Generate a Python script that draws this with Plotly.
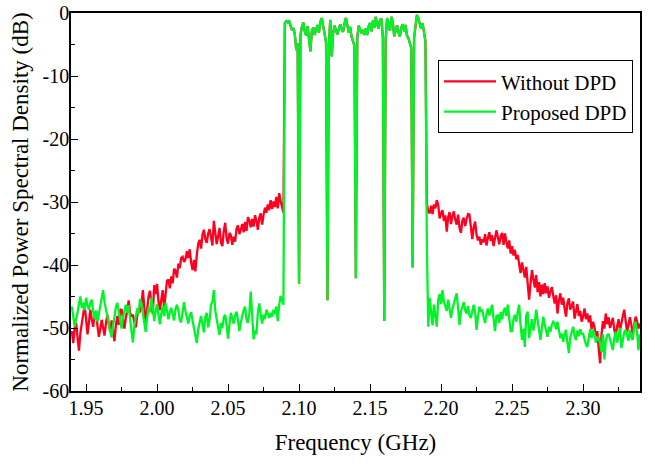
import numpy as np
import plotly.graph_objects as go

# Frequency sampling grid (GHz): 1.940 ... 2.340, 1 MHz step
F_START = 1.940
F_STEP = 0.001

# Lower adjacent band, 1.940 - 2.089 GHz (dB)
red_lower = [
    -50.5, -52.4, -50.0, -49.2, -51.5, -53.6, -50.8, -49.0, -47.6, -46.3,
    -48.5, -51.0, -49.2, -47.1, -48.6, -49.8, -48.0, -47.4, -49.6, -51.4,
    -50.2, -48.7, -49.9, -51.2, -49.3, -47.9, -49.4, -50.6, -48.8, -50.5,
    -52.1, -49.6, -48.1, -49.5, -47.2, -47.0, -48.6, -50.1, -48.4, -47.3,
    -45.6, -47.5, -48.2, -47.9, -49.0, -49.9, -48.1, -46.9, -47.5, -46.2,
    -44.0, -46.8, -49.3, -47.2, -45.0, -44.1, -46.5, -47.8, -43.2, -44.6,
    -43.0, -45.8, -47.1, -45.3, -44.0, -46.9, -44.8, -42.5, -42.3, -43.7,
    -41.8, -42.9, -40.6, -40.9, -42.0, -39.8, -40.5, -38.9, -38.7, -39.5,
    -39.1, -37.8, -38.9, -37.5, -39.6, -40.8, -39.2, -41.0, -38.4, -36.6,
    -36.0, -37.4, -35.2, -34.4, -35.9, -36.5, -35.0, -34.3, -35.6, -36.9,
    -33.0, -34.8, -36.7, -35.4, -34.1, -36.5, -37.0, -34.6, -33.3, -35.8,
    -36.6, -34.9, -35.3, -36.8, -35.5, -36.3, -34.2, -33.7, -35.1, -34.4,
    -33.5, -34.8, -33.2, -34.6, -32.4, -32.9, -34.0, -32.7, -33.9, -32.1,
    -33.0, -34.4, -32.5, -31.8, -33.6, -32.0, -30.9, -31.7, -30.4, -31.3,
    -29.7, -31.1, -29.9, -30.8, -29.2, -31.0, -28.6, -29.8, -30.6, -31.7,
]
green_lower = [
    -46.6, -48.2, -49.8, -48.5, -47.6, -46.2, -45.0, -46.8, -46.0, -47.2,
    -45.2, -46.4, -47.1, -46.0, -45.5, -47.3, -48.6, -47.2, -49.0, -47.8,
    -46.5, -45.2, -44.0, -45.9, -47.1, -48.3, -49.6, -50.4, -51.5, -49.7,
    -48.1, -46.7, -46.0, -47.5, -48.8, -50.1, -48.4, -47.0, -46.3, -47.6,
    -46.4, -48.5, -50.2, -52.3, -49.7, -48.0, -46.9, -47.8, -45.4, -46.1,
    -47.6, -49.2, -50.6, -48.4, -46.8, -47.5, -45.2, -46.7, -48.9, -47.3,
    -46.2, -47.9, -49.4, -47.7, -46.5, -48.1, -46.0, -47.3, -48.6, -47.5,
    -46.8, -47.9, -48.8, -47.0, -46.3, -47.2, -48.7, -49.1, -47.4, -45.9,
    -47.3, -48.1, -49.3, -48.0, -47.5, -48.8, -50.1, -51.0, -52.4, -50.2,
    -49.0, -48.1, -49.5, -50.7, -48.2, -47.6, -49.9, -48.7, -46.3, -45.8,
    -44.0, -47.2, -48.6, -50.3, -51.1, -49.2, -50.0, -48.3, -47.9, -49.6,
    -51.7, -49.4, -47.6, -48.5, -49.3, -48.0, -47.4, -48.8, -50.5, -49.1,
    -48.0, -47.2, -46.6, -48.7, -49.2, -47.6, -44.2, -48.0, -51.8, -50.4,
    -51.0, -47.5, -46.1, -47.8, -49.3, -47.9, -48.6, -47.1, -47.9, -48.4,
    -47.6, -48.2, -47.1, -47.8, -46.6, -48.9, -46.4, -44.9, -45.6, -46.3,
]

# Main channel, 2.090 - 2.189 GHz (dB), common to both curves
inband = [
    -1.6, -1.3, -1.5, -1.2, -2.0, -2.7, -2.4, -3.3, -5.9, -4.8,
    -43.0, -3.5, -2.2, -1.5, -2.9, -3.6, -2.1, -4.2, -6.1, -2.9,
    -2.3, -3.5, -2.6, -1.9, -3.1, -1.4, -0.8, -2.2, -3.0, -4.6,
    -45.6, -5.0, -1.1, -6.9, -3.2, -2.0, -2.8, -3.4, -2.5, -1.8,
    -2.6, -3.0, -1.7, -0.8, -1.9, -3.1, -2.2, -3.8, -4.5, -5.2,
    -42.1, -3.9, -2.0, -2.6, -3.2, -2.7, -3.5, -2.4, -3.5, -2.1,
    -1.6, -2.9, -1.2, -2.3, -0.6, -1.8, -2.5, -1.1, -0.9, -3.8,
    -48.9, -4.1, -0.8, -1.9, -2.8, -0.6, -1.4, -3.7, -2.6, -2.0,
    -3.1, -3.7, -2.3, -1.8, -2.9, -1.9, -3.6, -4.0, -4.8, -5.5,
    -40.4, -4.0, -2.1, -0.3, -0.9, -1.8, -2.5, -1.6, -3.1, -4.5,
]

# Upper adjacent band, 2.190 - 2.340 GHz (dB)
red_upper = [
    -30.2, -31.5, -31.8, -30.6, -31.9, -30.4, -31.0, -29.7, -30.5, -32.6,
    -31.8, -31.3, -33.0, -32.1, -34.7, -32.4, -31.6, -33.5, -32.2, -31.5,
    -32.8, -33.6, -32.0, -34.1, -34.9, -33.0, -32.5, -33.8, -32.7, -31.9,
    -32.0, -34.2, -35.9, -34.0, -33.1, -35.2, -36.1, -35.5, -36.8, -35.9,
    -36.4, -35.1, -36.9, -35.7, -34.8, -36.2, -35.3, -37.0, -35.9, -34.5,
    -35.6, -36.7, -35.4, -34.9, -36.8, -35.0, -36.3, -37.4, -36.1, -38.2,
    -37.0, -38.5, -37.6, -39.1, -38.4, -40.2, -41.3, -39.6, -40.9, -42.0,
    -40.3, -43.4, -45.5, -43.0, -40.8, -42.2, -43.6, -41.6, -44.3, -42.7,
    -45.0, -43.1, -44.6, -42.9, -44.5, -43.4, -45.2, -44.2, -43.5, -44.9,
    -46.1, -44.8, -47.7, -45.6, -44.5, -46.3, -45.2, -46.9, -48.2, -46.0,
    -45.3, -47.1, -46.4, -45.8, -48.5, -47.0, -46.2, -48.1, -47.3, -49.0,
    -48.2, -46.9, -48.6, -47.7, -49.1, -48.0, -50.2, -49.0, -49.8, -51.3,
    -50.5, -53.2, -55.6, -51.0, -48.9, -50.1, -47.7, -49.4, -48.3, -50.0,
    -49.1, -48.4, -50.3, -51.2, -49.7, -48.6, -50.4, -49.0, -48.1, -47.1,
    -48.8, -50.6, -49.5, -48.3, -49.5, -51.0, -49.6, -48.2, -48.9, -50.1,
    -49.3,
]
green_upper = [
    -37.0, -49.8, -45.2, -47.5, -49.6, -46.3, -47.9, -49.8, -45.5, -44.6,
    -46.2, -44.0, -45.8, -46.6, -47.3, -45.5, -46.9, -48.4, -47.0, -46.0,
    -45.2, -44.5, -46.8, -49.5, -47.4, -46.6, -45.9, -47.2, -47.7, -46.5,
    -48.0, -48.4, -47.1, -46.3, -47.5, -50.3, -48.2, -46.6, -47.4, -47.1,
    -48.3, -49.2, -47.8, -46.9, -48.0, -47.3, -46.3, -48.6, -50.5, -48.1,
    -48.0, -49.2, -47.5, -48.6, -47.3, -46.8, -48.1, -46.3, -48.4, -50.5,
    -50.5, -48.6, -47.9, -49.0, -47.4, -46.3, -49.5, -51.9, -50.1, -53.0,
    -48.0, -47.4, -51.6, -49.8, -48.6, -50.4, -49.2, -47.1, -48.9, -50.5,
    -51.9, -50.0, -48.2, -49.5, -50.7, -51.4, -49.8, -50.6, -49.5, -49.0,
    -49.3, -50.2, -49.0, -50.4, -51.6, -50.9, -52.2, -51.0, -50.3, -52.4,
    -54.0, -51.5, -50.6, -49.8, -51.2, -51.9, -50.4, -51.3, -50.2, -50.9,
    -50.9, -51.8, -52.6, -53.0, -51.1, -50.2, -51.6, -50.3, -50.8, -52.3,
    -51.7, -51.4, -52.5, -53.8, -51.0, -55.0, -52.0, -51.2, -50.9, -51.8,
    -52.3, -53.5, -51.6, -50.6, -52.3, -51.1, -50.0, -53.2, -51.5, -50.7,
    -50.3, -51.2, -52.0, -50.3, -51.5, -51.9, -49.8, -49.0, -50.6, -53.5,
    -51.0,
]

x_tick_vals = [1.95, 2.00, 2.05, 2.10, 2.15, 2.20, 2.25, 2.30]
x_tick_text = ["1.95", "2.00", "2.05", "2.10", "2.15", "2.20", "2.25", "2.30"]
y_tick_vals = [0, -10, -20, -30, -40, -50, -60]
y_tick_text = ["0", "-10", "-20", "-30", "-40", "-50", "-60"]

red_psd = red_lower + inband + red_upper
green_psd = green_lower + inband + green_upper
freq = np.round(F_START + F_STEP * np.arange(len(red_psd)), 4)

FONT = "Liberation Serif, Times New Roman, serif"

fig = go.Figure()
fig.add_trace(go.Scatter(x=freq, y=red_psd, mode="lines", name="Without DPD",
                         line=dict(color="rgb(255,0,32)", width=2.3)))
fig.add_trace(go.Scatter(x=freq, y=green_psd, mode="lines", name="Proposed DPD",
                         line=dict(color="rgb(0,245,40)", width=2.3)))

axis_common = dict(
    showline=True, linecolor="black", linewidth=1.5, mirror=True,
    showgrid=False, zeroline=False, automargin=False,
    ticks="inside", ticklen=7, tickwidth=1.3, tickcolor="black",
    ticklabeloverflow="allow",
    tickfont=dict(family=FONT, size=20, color="black"),
)

fig.update_xaxes(
    range=[1.9394, 2.3401], tickvals=x_tick_vals, ticktext=x_tick_text,
    ticklabelstandoff=-2,
    minor=dict(ticks="inside", ticklen=4, tickwidth=1.2, tickcolor="black", dtick=0.025, tick0=1.95),
    title=dict(text="Frequency (GHz)", font=dict(family=FONT, size=23, color="black"), standoff=16),
    **axis_common,
)
fig.update_yaxes(
    range=[-60, 0], tickvals=y_tick_vals, ticktext=y_tick_text,
    ticklabelstandoff=-4,
    minor=dict(ticks="inside", ticklen=4, tickwidth=1.2, tickcolor="black", dtick=5, tick0=0),
    title=dict(text="Normalized Power Spectral Density (dB)", font=dict(family=FONT, size=23, color="black"), standoff=8),
    **axis_common,
)

fig.update_layout(
    width=655, height=466,
    margin=dict(l=71, r=15, t=13, b=75),
    paper_bgcolor="white", plot_bgcolor="white",
    font=dict(family=FONT, color="black"),
    legend=dict(
        x=0.645, y=0.875, xanchor="left", yanchor="top",
        bordercolor="black", borderwidth=1, bgcolor="white",
        font=dict(family=FONT, size=21, color="black"),
        tracegroupgap=0, itemwidth=52,
    ),
    showlegend=True,
)

# Remove the browser's default 8 px body margin so the figure fills the window.
fig.write_html("out.html", config={"displayModeBar": False},
               post_script="document.body.style.margin='0';")
